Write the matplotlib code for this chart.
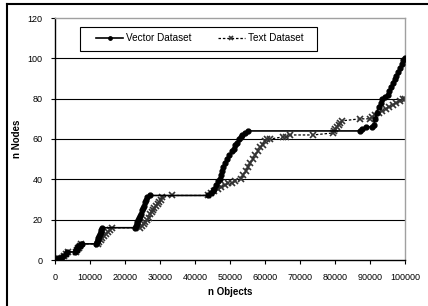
import matplotlib
matplotlib.use("Agg")
import matplotlib.pyplot as plt
from matplotlib.lines import Line2D
from matplotlib.patches import Rectangle

plt.rcParams['font.family'] = ['Liberation Sans', 'DejaVu Sans']

# Vector Dataset
vector_x = [0, 800, 1800, 2200, 3000, 3500, 5700, 5900, 6200, 6400, 6700, 7000, 7300, 7700,
            11800, 12000, 12200, 12400, 12600, 12800, 13000, 13200, 13400,
            22900, 23100, 23300, 23500, 23700, 23900, 24300, 24600, 24900, 25200, 25500, 25700,
            26000, 26400, 27000, 43700,
            44500, 45000, 45500, 46000, 46500, 47000, 47400, 47700, 48100, 48600, 49200, 49800,
            50500, 51000, 51500, 52000, 52500, 53000, 53500, 54200, 55000,
            87100, 87600, 88900, 90500, 91000, 91500, 92000, 92500, 93000, 93500, 94200, 95000,
            95500, 96000, 96500, 97000, 97500, 98000, 98500, 99000, 99500, 100000]
vector_y = [0, 1, 1, 2, 3, 4, 4, 5, 5, 6, 7, 7, 8, 8,
            8, 9, 10, 11, 12, 13, 14, 15, 16,
            16, 17, 18, 19, 20, 21, 22, 23, 25, 26, 27, 29,
            30, 31, 32, 32,
            33, 34, 35, 37, 39, 40, 42, 44, 46, 48, 50, 52,
            54, 55, 57, 58, 60, 61, 62, 63, 64,
            64, 65, 66, 66, 67, 70, 73, 76, 78, 80, 81, 82,
            84, 86, 88, 90, 91, 93, 95, 97, 99, 100]

# Text Dataset
text_x = [0, 1000, 2000, 2500, 3200, 3600, 6000, 6200, 6500, 6800, 7100, 7500,
          12300, 12600, 13000, 13500, 14000, 14500, 15000, 15600, 16300,
          24300, 24800, 25300, 25800, 26300, 26800, 27200, 27600, 28000, 28400, 28800, 29300,
          29800, 30300, 30600, 33400, 43700,
          44500, 45500, 46500, 47500, 48500, 49500, 50500, 51500, 53000, 53800, 54500, 55200,
          55800, 56500, 57200, 58000, 58700, 59300, 60000, 60500, 61500, 65000, 66000, 67000,
          73700, 79500, 79800, 80100, 80500, 81000, 81500, 82000, 87100, 90000,
          90500, 91500, 92500, 93500, 94500, 95500, 96500, 97500, 98500, 99500, 100000]
text_y = [0, 1, 1, 2, 3, 4, 4, 5, 6, 6, 7, 8,
          8, 9, 10, 11, 12, 13, 14, 15, 16,
          16, 17, 18, 19, 20, 21, 23, 24, 25, 26, 27, 28,
          29, 30, 31, 32, 32,
          33, 34, 35, 36, 37, 38, 38, 39, 40, 42, 44, 46,
          48, 50, 52, 54, 56, 57, 59, 60, 60, 61, 61, 62,
          62, 63, 64, 65, 66, 67, 68, 69, 70, 70,
          71, 72, 73, 74, 75, 76, 77, 78, 79, 80, 80]

x_ticks = [0, 10000, 20000, 30000, 40000, 50000, 60000, 70000, 80000, 90000, 100000]
y_ticks = [0, 20, 40, 60, 80, 100, 120]

fig = plt.figure(figsize=(4.28, 3.06), dpi=100)
ax = fig.add_axes([55 / 428, 1 - 260 / 306, 350 / 428, 242 / 306])

for yv in y_ticks[1:-1]:
    ax.axhline(yv, color='black', lw=0.8, zorder=1)

ax.plot(vector_x, vector_y, color='black', lw=1.2, marker='o', markersize=3.5,
        label='Vector Dataset', zorder=3)
ax.plot(text_x, text_y, color='black', lw=0.9, linestyle=(0, (2, 1.5)), marker='x',
        markersize=4.5, markeredgewidth=1.2, markeredgecolor='#333333',
        label='Text Dataset', zorder=2)

ax.set_xlim(0, 100000)
ax.set_ylim(0, 120)
ax.set_xticks(x_ticks)
ax.set_yticks(y_ticks)
ax.set_xticklabels([str(v) for v in x_ticks])
ax.tick_params(axis='both', labelsize=6.5, direction='out', length=3, width=0.8, pad=6)

for side in ['top', 'right']:
    ax.spines[side].set_color('#a0a0a0')
    ax.spines[side].set_linewidth(1.0)
for side in ['left', 'bottom']:
    ax.spines[side].set_color('black')
    ax.spines[side].set_linewidth(1.0)

ax.set_xlabel('n Objects', fontsize=7, fontweight='bold', labelpad=4)
ax.set_ylabel('n Nodes', fontsize=7, fontweight='bold', labelpad=4)

# legend box drawn separately so its padding matches the original
ax.add_patch(Rectangle((25 / 350, 209 / 242), 237 / 350, 24 / 242, transform=ax.transAxes,
                       facecolor='white', edgecolor='black', lw=0.8, zorder=4))
leg = ax.legend(loc='upper left', bbox_to_anchor=(41 / 350, 1 - 15 / 242), ncol=2,
                fontsize=7.2, frameon=False, handlelength=2.7, handletextpad=0.3,
                columnspacing=2.6, borderpad=0, borderaxespad=0, markerscale=0.7)
leg.set_zorder(5)

# outer chart border (top and left visible)
fig.add_artist(Line2D([7 / 428, 1], [1 - 4 / 306, 1 - 4 / 306], color='black', lw=1.5))
fig.add_artist(Line2D([7 / 428, 7 / 428], [0, 1 - 4 / 306], color='black', lw=1.5))

fig.savefig('out.png', dpi=100)
